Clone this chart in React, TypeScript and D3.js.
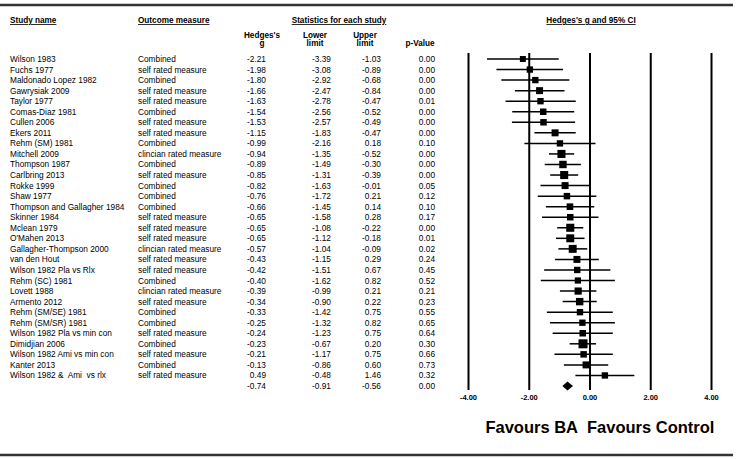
import * as d3 from 'd3';

const studyNames = [
    'Wilson 1983',
    'Fuchs 1977',
    'Maldonado Lopez 1982',
    'Gawrysiak 2009',
    'Taylor 1977',
    'Comas-Diaz 1981',
    'Cullen 2006',
    'Ekers 2011',
    'Rehm (SM) 1981',
    'Mitchell 2009',
    'Thompson 1987',
    'Carlbring 2013',
    'Rokke 1999',
    'Shaw 1977',
    'Thompson and Gallagher 1984',
    'Skinner 1984',
    'Mclean 1979',
    "O'Mahen 2013",
    'Gallagher-Thompson 2000',
    'van den Hout',
    'Wilson 1982 Pla vs Rlx',
    'Rehm (SC) 1981',
    'Lovett 1988',
    'Armento 2012',
    'Rehm (SM/SE) 1981',
    'Rehm (SM/SR) 1981',
    'Wilson 1982 Pla vs min con',
    'Dimidjian 2006',
    'Wilson 1982 Ami vs min con',
    'Kanter 2013',
    'Wilson 1982 &  Ami  vs rlx',
];

const outcomes = [
    'Combined',
    'self rated measure',
    'Combined',
    'self rated measure',
    'self rated measure',
    'Combined',
    'self rated measure',
    'self rated measure',
    'Combined',
    'clincian rated measure',
    'Combined',
    'self rated measure',
    'Combined',
    'Combined',
    'Combined',
    'self rated measure',
    'self rated measure',
    'self rated measure',
    'clincian rated measure',
    'self rated measure',
    'self rated measure',
    'Combined',
    'clincian rated measure',
    'self rated measure',
    'Combined',
    'Combined',
    'self rated measure',
    'Combined',
    'self rated measure',
    'Combined',
    'self rated measure',
];

const hedgesG = [
    -2.21, -1.98, -1.8, -1.66, -1.63, -1.54, -1.53, -1.15, -0.99, -0.94, -0.89, -0.85, -0.82, -0.76,
    -0.66, -0.65, -0.65, -0.65, -0.57, -0.43, -0.42, -0.4, -0.39, -0.34, -0.33, -0.25, -0.24, -0.23,
    -0.21, -0.13, 0.49,
];
const lowerLimit = [
    -3.39, -3.08, -2.92, -2.47, -2.78, -2.56, -2.57, -1.83, -2.16, -1.35, -1.49, -1.31, -1.63, -1.72,
    -1.45, -1.58, -1.08, -1.12, -1.04, -1.15, -1.51, -1.62, -0.99, -0.9, -1.42, -1.32, -1.23, -0.67,
    -1.17, -0.86, -0.48,
];
const upperLimit = [
    -1.03, -0.89, -0.68, -0.84, -0.47, -0.52, -0.49, -0.47, 0.18, -0.52, -0.3, -0.39, -0.01, 0.21,
    0.14, 0.28, -0.22, -0.18, -0.09, 0.29, 0.67, 0.82, 0.21, 0.22, 0.75, 0.82, 0.75, 0.2, 0.75, 0.6,
    1.46,
];
const pValues = [
    0.0, 0.0, 0.0, 0.0, 0.01, 0.0, 0.0, 0.0, 0.1, 0.0, 0.0, 0.0, 0.05, 0.12, 0.1, 0.17, 0.0, 0.01,
    0.02, 0.24, 0.45, 0.52, 0.21, 0.23, 0.55, 0.65, 0.64, 0.3, 0.66, 0.73, 0.32,
];
// relative weights
const weights = [
    2.2, 2.5, 2.5, 3.0, 2.5, 2.6, 2.6, 3.0, 2.5, 4.0, 3.4, 4.0, 3.0, 2.6, 2.7, 2.6, 4.0, 3.9, 3.9,
    3.0, 2.5, 2.4, 3.2, 3.4, 2.5, 2.5, 2.6, 5.0, 2.6, 3.0, 2.5,
];

const summaryG = -0.74;
const summaryLower = -0.91;
const summaryUpper = -0.56;
const summaryP = 0.0;

const axisTicks = [-4, -2, 0, 2, 4];

const WIDTH = 737;
const HEIGHT = 459;
const font = '"Liberation Sans", Arial, sans-serif';

export default function App() {
    const nRows = studyNames.length + 1;
    const y = d3.scaleLinear().domain([0, nRows - 1]).range([59, 386]);
    const x = d3.scaleLinear().domain([-4, 4]).range([468.5, 711.5]);
    const boxSize = d3.scaleSqrt().domain([0, d3.max(weights)!]).range([0, 9]);

    const fmt = (v: number) => v.toFixed(2);
    const sumY = y(nRows - 1);

    const colHedges = 266;
    const colLower = 331;
    const colUpper = 381;
    const colP = 435;

    const diamond = d3.line()([
        [x(summaryLower), sumY],
        [x(summaryG), sumY - 4.5],
        [x(summaryUpper), sumY],
        [x(summaryG), sumY + 4.5],
    ]) + 'Z';

    return (
        <svg
            width={WIDTH}
            height={HEIGHT}
            viewBox={`0 0 ${WIDTH} ${HEIGHT}`}
            style={{ position: 'absolute', left: 0, top: 0, background: '#fff' }}
            fontFamily={font}
        >
            <rect width={WIDTH} height={HEIGHT} fill="#fff" />
            <line x1={0} x2={733} y1={5} y2={5} stroke="#333" strokeWidth={2.5} />
            <line x1={0} x2={733} y1={455} y2={455} stroke="#333" strokeWidth={2.5} />

            {/* headers */}
            <g fontSize={8.2} fontWeight="bold" textDecoration="underline">
                <text x={10} y={23}>Study name</text>
                <text x={138} y={23}>Outcome measure</text>
                <text x={339} y={23} textAnchor="middle">Statistics for each study</text>
                <text x={591} y={23} textAnchor="middle">Hedges's g and 95% CI</text>
            </g>
            <g fontSize={8.2} fontWeight="bold" textAnchor="middle">
                <text x={262} y={38}>Hedges's</text>
                <text x={262} y={46}>g</text>
                <text x={315} y={38}>Lower</text>
                <text x={315} y={46}>limit</text>
                <text x={365} y={38}>Upper</text>
                <text x={365} y={46}>limit</text>
                <text x={420} y={46}>p-Value</text>
            </g>

            {/* table rows */}
            <g fontSize={8.3}>
                {studyNames.map((name, i) => (
                    <g key={name + i} transform={`translate(0, ${y(i) + 3})`}>
                        <text x={10} style={{ whiteSpace: 'pre' }}>{name}</text>
                        <text x={138}>{outcomes[i]}</text>
                        <text x={colHedges} textAnchor="end">{fmt(hedgesG[i])}</text>
                        <text x={colLower} textAnchor="end">{fmt(lowerLimit[i])}</text>
                        <text x={colUpper} textAnchor="end">{fmt(upperLimit[i])}</text>
                        <text x={colP} textAnchor="end">{fmt(pValues[i])}</text>
                    </g>
                ))}
                <g transform={`translate(0, ${sumY + 3})`}>
                    <text x={colHedges} textAnchor="end">{fmt(summaryG)}</text>
                    <text x={colLower} textAnchor="end">{fmt(summaryLower)}</text>
                    <text x={colUpper} textAnchor="end">{fmt(summaryUpper)}</text>
                    <text x={colP} textAnchor="end">{fmt(summaryP)}</text>
                </g>
            </g>

            {/* forest grid */}
            {axisTicks.map((t) => (
                <g key={t}>
                    <line x1={x(t)} x2={x(t)} y1={53} y2={390} stroke="#000" strokeWidth={2} />
                    <text
                        x={x(t)}
                        y={400}
                        textAnchor="middle"
                        fontSize={7.5}
                        fontWeight="bold"
                    >
                        {fmt(t)}
                    </text>
                </g>
            ))}

            {/* study markers */}
            {hedgesG.map((g, i) => {
                const s = boxSize(weights[i]);
                return (
                    <g key={i}>
                        <line
                            x1={x(lowerLimit[i])}
                            x2={x(upperLimit[i])}
                            y1={y(i)}
                            y2={y(i)}
                            stroke="#000"
                            strokeWidth={1.5}
                        />
                        <rect x={x(g) - s / 2} y={y(i) - s / 2} width={s} height={s} fill="#000" />
                    </g>
                );
            })}
            <path d={diamond} fill="#000" />

            <g fontSize={16.5} fontWeight="bold">
                <text x={x(0) - 12} y={433} textAnchor="end">Favours BA</text>
                <text x={x(0) - 3} y={433}>Favours Control</text>
            </g>
        </svg>
    );
}
